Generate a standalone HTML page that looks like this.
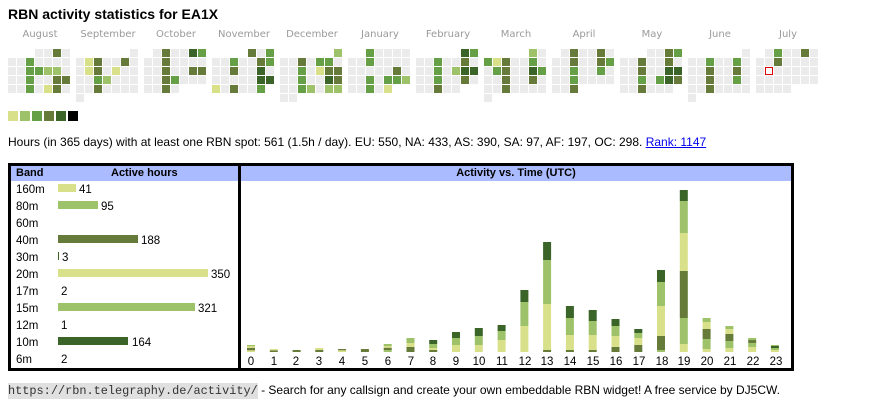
<!DOCTYPE html>
<html><head><meta charset="utf-8"><style>
body{margin:0;width:870px;height:407px;background:#fff;font-family:"Liberation Sans",Arial,sans-serif;position:relative;overflow:hidden}
.a{position:absolute;white-space:nowrap}
.t{left:8px;top:6px;font-size:14px;font-weight:bold;color:#000}
.m{font-family:"DejaVu Sans",sans-serif;font-size:10px;color:#9a9a9a;top:29px;width:64px;text-align:center}
.info{left:8px;top:135px;font-size:12px;color:#000}
.info a{color:#00e;text-decoration:underline}
.box{border:3px solid #000;box-sizing:border-box}
.hd{position:absolute;left:0;right:0;top:0;height:15px;background:#abbbff;font-size:11px;font-weight:bold}
.foot{left:8px;top:383px;font-size:12px}
.foot code{font-family:"Liberation Mono",monospace;font-size:11.9px;background:#e0e0e0;color:#333;padding:1px 0}
</style></head><body>
<div class="a t">RBN activity statistics for EA1X</div>
<div class="a m" style="left:8px">August</div>
<div class="a m" style="left:76px">September</div>
<div class="a m" style="left:144px">October</div>
<div class="a m" style="left:212px">November</div>
<div class="a m" style="left:280px">December</div>
<div class="a m" style="left:348px">January</div>
<div class="a m" style="left:416px">February</div>
<div class="a m" style="left:484px">March</div>
<div class="a m" style="left:552px">April</div>
<div class="a m" style="left:620px">May</div>
<div class="a m" style="left:688px">June</div>
<div class="a m" style="left:756px">July</div>
<svg id="hm" class="a" style="left:0;top:0" width="870" height="125"></svg>
<div class="a info">Hours (in 365 days) with at least one RBN spot: 561 (1.5h / day). EU: 550, NA: 433, AS: 390, SA: 97, AF: 197, OC: 298. <a>Rank: 1147</a></div>

<div class="a box" style="left:8px;top:163px;width:233px;height:208px">
<div class="hd"><span style="position:absolute;left:5px;top:1px">Band</span><span style="position:absolute;left:100px;top:1px">Active hours</span></div>
<svg style="position:absolute;left:0;top:0" width="230" height="205">
<g font-family="Liberation Sans,Arial,sans-serif" font-size="11.5" fill="#000">
<text x="5" y="27">160m</text><rect x="47" y="18" width="18" height="8" fill="#d9e08a"/><text x="68" y="27">41</text>
<text x="5" y="44">80m</text><rect x="47" y="35" width="40" height="8" fill="#9dc26a"/><text x="90" y="44">95</text>
<text x="5" y="61">60m</text>
<text x="5" y="78">40m</text><rect x="47" y="69" width="80" height="8" fill="#667a3a"/><text x="130" y="78">188</text>
<text x="5" y="95">30m</text><rect x="47" y="86" width="1" height="8" fill="#3a6428"/><text x="51" y="95">3</text>
<text x="5" y="112">20m</text><rect x="47" y="103" width="150" height="8" fill="#d9e08a"/><text x="200" y="112">350</text>
<text x="5" y="129">17m</text><text x="50" y="129">2</text>
<text x="5" y="146">15m</text><rect x="47" y="137" width="137" height="8" fill="#9dc26a"/><text x="187" y="146">321</text>
<text x="5" y="163">12m</text><text x="50" y="163">1</text>
<text x="5" y="180">10m</text><rect x="47" y="171" width="70" height="8" fill="#3a6428"/><text x="121" y="180">164</text>
<text x="5" y="197">6m</text><text x="50" y="197">2</text>
</g></svg>
</div>

<div class="a box" style="left:238px;top:163px;width:556px;height:208px">
<div class="hd"><span style="position:absolute;left:0;right:0;top:1px;text-align:center">Activity vs. Time (UTC)</span></div>
</div>
<svg id="ch" class="a" style="left:0;top:0" width="870" height="380">
<g font-family="Liberation Sans,Arial,sans-serif" font-size="11.5" fill="#000" text-anchor="middle">
<text x="251" y="365">0</text><text x="274" y="365">1</text><text x="296" y="365">2</text><text x="319" y="365">3</text><text x="342" y="365">4</text><text x="365" y="365">5</text><text x="388" y="365">6</text><text x="411" y="365">7</text><text x="433" y="365">8</text><text x="456" y="365">9</text><text x="479" y="365">10</text><text x="502" y="365">11</text><text x="525" y="365">12</text><text x="547" y="365">13</text><text x="570" y="365">14</text><text x="593" y="365">15</text><text x="616" y="365">16</text><text x="639" y="365">17</text><text x="662" y="365">18</text><text x="684" y="365">19</text><text x="707" y="365">20</text><text x="730" y="365">21</text><text x="753" y="365">22</text><text x="776" y="365">23</text>
</g></svg>

<div class="a foot"><code>https://rbn.telegraphy.de/activity/</code> - Search for any callsign and create your own embeddable RBN widget! A free service by DJ5CW.</div>

<script>
var C={1:"#d9e08a",2:"#9dc26a",3:"#66a046",4:"#667a3a",5:"#3a6428",0:"#ebebeb"};
var M=[
["...0040","0030000","0033220","0030044","0030140",""],
["......0","0140040","0140100","0032000","0040000","0......"],
[".040053","0040000","0040044","0043000","0040...",""],
["....403","0030043","0040050","0000055","104003.",""],
["......2","0040330","0030144","0030054","0032022","00....."],
["..30000","0030000","0000040","0030332","00301..",""],
[".....53","0030040","0030255","0030040","00400..",""],
[".....20","3140030","0340053","0040040","0040000","0......"],
[".040040","0040043","0030030","0030000","004....",""],
["...0043","0040040","0040055","0030354","004000.",""],
["......0","0030030","0040040","0040030","0040000","0......"],
[".030040","0040000","0R00000","0000000","0000...",""]];
var s="";
for(var m=0;m<12;m++)for(var r=0;r<6;r++){var row=M[m][r];for(var c=0;c<row.length;c++){var ch=row[c];if(ch==".")continue;var x=8+m*68+c*9,y=49+r*9;
if(ch=="R")s+='<rect x="'+(x+0.5)+'" y="'+(y+0.5)+'" width="7" height="7" fill="#fff" stroke="#e00000" stroke-width="1"/>';
else s+='<rect x="'+x+'" y="'+y+'" width="8" height="8" fill="'+C[ch]+'"/>';}}
var L=["#d9e08a","#9dc26a","#66a046","#667a3a","#3a6428","#000"];
for(var i=0;i<6;i++)s+='<rect x="'+(8+i*12)+'" y="111" width="10" height="10" fill="'+L[i]+'"/>';
document.getElementById("hm").innerHTML=s;
var B=[
[[1,571,576],[4,564,571],[1,559,564],[2,555,559]],
[[4,571,576],[1,567,571]],
[[4,570,576]],
[[4,570,576],[1,564,570]],
[[1,571,576],[4,567,571]],
[[4,567,576]],
[[2,570,576],[4,563,570],[1,558,563],[2,552,558]],
[[4,561,576],[1,549,561],[2,534,549]],
[[4,570,576],[1,564,570],[2,552,564],[5,540,552]],
[[1,555,576],[2,534,555],[5,516,534]],
[[1,555,576],[2,528,555],[5,504,528]],
[[1,540,576],[2,513,540],[5,495,513]],
[[1,498,576],[2,426,498],[5,390,426]],
[[4,570,576],[1,432,570],[2,300,432],[5,246,300]],
[[4,570,576],[1,525,570],[2,474,525],[5,438,474]],
[[4,570,576],[1,525,570],[2,483,525],[5,450,483]],
[[4,561,576],[1,528,561],[2,498,528],[5,477,498]],
[[4,555,576],[1,534,555],[2,519,534],[5,507,519]],
[[2,570,576],[4,528,570],[1,438,528],[2,366,438],[5,330,366]],
[[1,552,576],[2,474,552],[4,333,474],[1,219,333],[2,123,219],[5,90,123]],
[[1,567,576],[2,537,567],[4,507,537],[1,486,507],[2,474,486]],
[[1,564,576],[2,543,564],[4,522,543],[1,507,522],[2,498,507]],
[[1,561,576],[2,549,561],[4,540,549],[2,534,540]],
[[1,570,576],[2,564,570],[5,558,564],[2,555,558]]];
var t="";
for(var i=0;i<24;i++){var x=247+i*22.78;B[i].forEach(function(g){var y0=160+g[1]/3,y1=160+g[2]/3;t+='<rect x="'+x.toFixed(1)+'" y="'+y0.toFixed(1)+'" width="8" height="'+(y1-y0).toFixed(1)+'" fill="'+C[g[0]]+'"/>';});}
document.getElementById("ch").insertAdjacentHTML("afterbegin",t);
</script>
</body></html>
